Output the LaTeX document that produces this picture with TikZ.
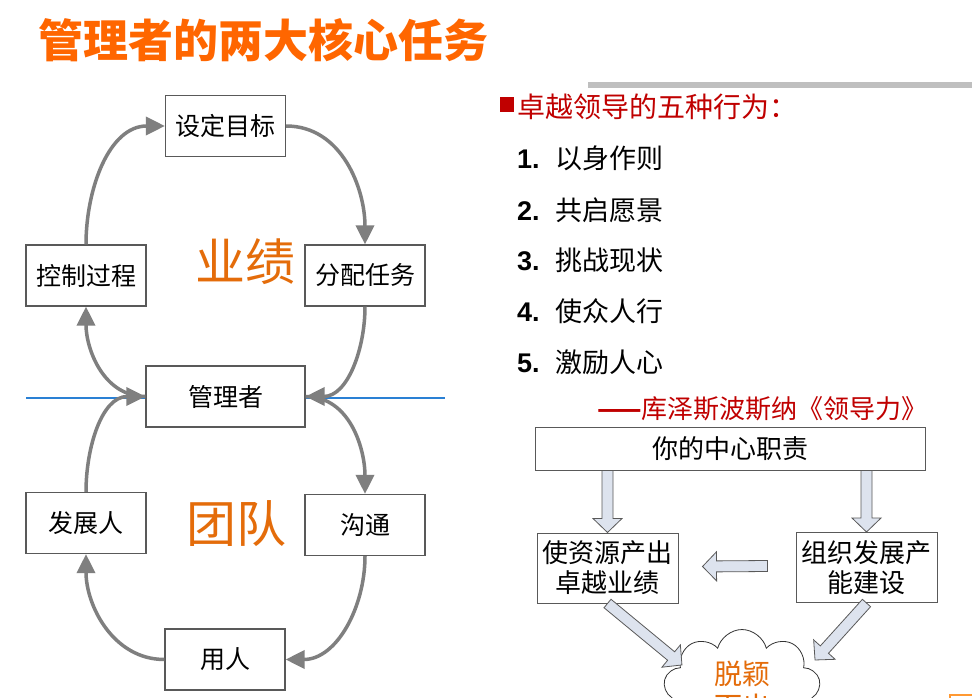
\documentclass[tikz,border=0pt]{standalone}
\usepackage{fontspec}
\setmainfont{Noto Sans CJK SC}
\newfontfamily\numfont{Liberation Sans}
\usetikzlibrary{arrows.meta,calc,shapes.symbols}

\definecolor{titleorange}{HTML}{FF6600}
\definecolor{wordorange}{HTML}{E46C0A}
\definecolor{headred}{HTML}{C00000}
\definecolor{arrowgray}{HTML}{7F7F7F}
\definecolor{boxgray}{HTML}{595959}
\definecolor{lineblue}{HTML}{2A80D4}
\definecolor{arrowfill}{HTML}{DDE3EE}

\tikzset{
  cyclebox/.style={draw=boxgray, line width=1.2pt, fill=white, inner sep=0pt,
    minimum width=120pt, minimum height=61pt, font=\fontsize{25}{30}\selectfont},
  cyclearrow/.style={draw=arrowgray, line width=3.5pt,
    -{Triangle[length=19pt,width=18pt]}},
  dutybox/.style={draw=boxgray, line width=1pt, inner sep=0pt, align=center,
    font=\fontsize{26}{30}\selectfont},
  blockarr/.style={draw=boxgray, line width=0.8pt, fill=arrowfill, line join=miter},
  listitem/.style={anchor=west, inner sep=0pt, font=\fontsize{27}{30}\selectfont}
}

% hollow block arrow from #1 to #2
\newcommand{\hollowarrow}[2]{%
  \path[blockarr] let \p1=(#1), \p2=(#2),
    \n1={atan2(\y2-\y1,\x2-\x1)}, \n2={veclen(\x2-\x1,\y2-\y1)} in
    [shift={(\p1)}, rotate=\n1]
    (0pt,-5.5pt) -- (\n2-14pt,-5.5pt) -- (\n2-14pt,-14.5pt) -- (\n2,0pt)
    -- (\n2-14pt,14.5pt) -- (\n2-14pt,5.5pt) -- (0pt,5.5pt) -- cycle;}

\begin{document}
\begin{tikzpicture}[x=1pt,y=-1pt]
  \useasboundingbox (0,0) rectangle (972,698);
  \clip (0,0) rectangle (972,698);
  \fill[white] (0,0) rectangle (972,698);

  %Titre
  \node[anchor=west, inner sep=0pt, text=titleorange,
    font=\fontsize{45}{50}\selectfont\bfseries] (title) at (38,40) {管理者的两大核心任务};
  \fill[gray!50] (588,82) rectangle (972,88);

  %Cycle
  \node[cyclebox] (goal) at (225.5,126) {设定目标};
  \node[cyclebox] (ctrl) at (86,275.5) {控制过程};
  \node[cyclebox] (alloc) at (365,275.5) {分配任务};
  \coordinate (bl) at (26,398);
  \coordinate (br) at (445,398);
  \draw[lineblue, line width=1.5pt] (bl) -- (146,398);
  \draw[lineblue, line width=1.5pt] (305,398) -- (br);
  \node[cyclebox, minimum width=159pt] (mgr) at (225.5,396.5) {管理者};
  \node[cyclebox] (dev) at (86,523) {发展人};
  \node[cyclebox] (comm) at (365,525) {沟通};
  \node[cyclebox] (hire) at (225,659.5) {用人};

  \node[text=wordorange, font=\fontsize{50}{50}\selectfont] (perf) at (245,262) {业绩};
  \node[text=wordorange, font=\fontsize{50}{50}\selectfont] (team) at (236,524) {团队};

  \draw[cyclearrow] (ctrl.north) to[out=90,in=180] (goal.west);
  \draw[cyclearrow] (goal.east) to[out=0,in=90] (alloc.north);
  \draw[cyclearrow] (alloc.south) to[out=-90,in=0] (mgr.east);
  \draw[cyclearrow] (mgr.west) to[out=180,in=-90] (ctrl.south);
  \draw[cyclearrow] (mgr.east) to[out=0,in=90] (comm.north);
  \draw[cyclearrow] (comm.south) to[out=-90,in=0] (hire.east);
  \draw[cyclearrow] (hire.west) to[out=180,in=-90] (dev.south);
  \draw[cyclearrow] (dev.north) to[out=90,in=180] (mgr.west);

  %Cinq comportements
  \fill[headred] (500,97) rectangle (514,112);
  \node[anchor=west, inner sep=0pt, text=headred, font=\fontsize{28}{30}\selectfont]
    (head) at (517,107) {卓越领导的五种行为：};
  \node[listitem] (l1) at (517,158) {{\numfont\bfseries 1.}\hspace{16pt}以身作则};
  \node[listitem] (l2) at (517,210) {{\numfont\bfseries 2.}\hspace{16pt}共启愿景};
  \node[listitem] (l3) at (517,260) {{\numfont\bfseries 3.}\hspace{16pt}挑战现状};
  \node[listitem] (l4) at (517,311) {{\numfont\bfseries 4.}\hspace{16pt}使众人行};
  \node[listitem] (l5) at (517,362) {{\numfont\bfseries 5.}\hspace{16pt}激励人心};
  \node[anchor=west, inner sep=0pt, text=headred, font=\fontsize{26}{30}\selectfont]
    (cite) at (597,409) {\textbf{——}库泽斯波斯纳《领导力》};

  %Centre
  \node[dutybox, minimum width=390pt, minimum height=43pt] (duty) at (730,448.5) {你的中心职责};
  \node[dutybox, minimum width=141pt, minimum height=70pt] (res) at (607.5,568) {使资源产出\\卓越业绩};
  \node[dutybox, minimum width=141pt, minimum height=70pt] (org) at (866.5,567.5) {组织发展产\\能建设};
  \node[cloud, cloud puffs=9, aspect=1.4, draw=black!80, line width=0.8pt, fill=white,
    minimum width=157pt, minimum height=112pt, align=center, text=wordorange,
    font=\fontsize{28}{33}\selectfont] (stand) at (742,690) {脱颖\\而出};
  \coordinate (tipl) at (682,665);
  \coordinate (tipr) at (815,660);
  \coordinate (lft) at ($(org.west)+(-28,-1.5)$);
  \coordinate (rgt) at ($(res.east)+(24,-1.5)$);

  \hollowarrow{res.north |- duty.south}{res.north}
  \hollowarrow{org.north |- duty.south}{org.north}
  \hollowarrow{lft}{rgt}
  \hollowarrow{res.south}{tipl}
  \hollowarrow{org.south}{tipr}

  \draw[orange!80, line width=1.5pt] (950,695) rectangle (990,720);
\end{tikzpicture}
\end{document}
